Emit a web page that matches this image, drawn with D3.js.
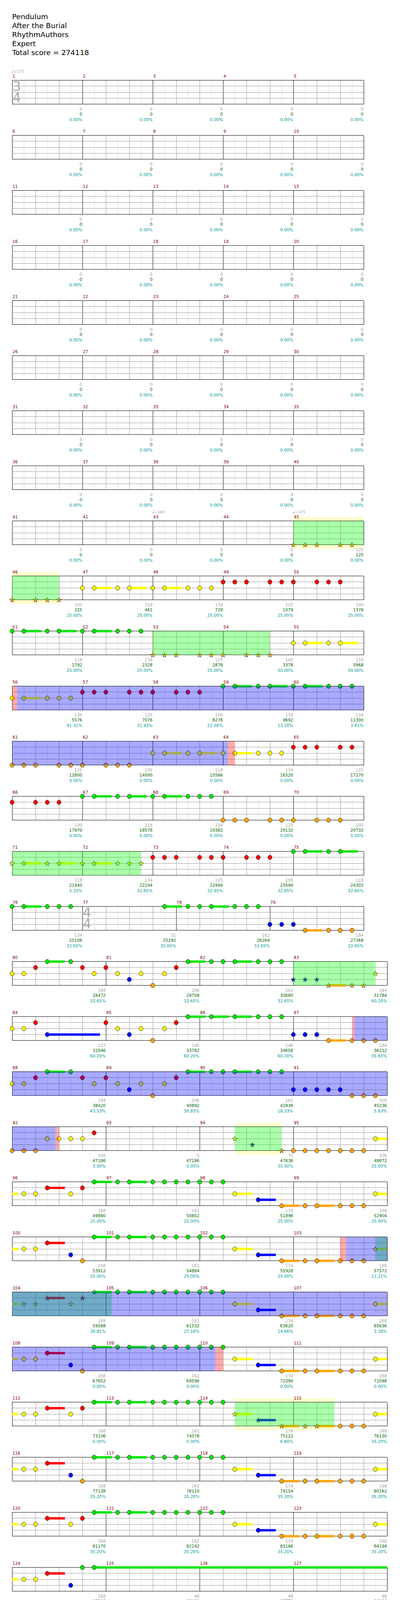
<!DOCTYPE html>
<html>
<head>
<meta charset="utf-8">
<script src="https://cdnjs.cloudflare.com/ajax/libs/d3/7.8.5/d3.min.js"></script>
<style>
  body { margin: 0; background: #fff; }
  text { font-family: "DejaVu Sans", sans-serif; }
</style>
</head>
<body>
<div id="chart"></div>
<script>
// page and staff geometry
const WIDTH = 1024, HEIGHT = 7819;
const LEFT = 31, PX_PER_16TH = 15, ROW_16THS = 64;
const FIRST_STAFF_TOP = 205.7, ROW_PITCH = 141, LANE_GAP = 15.25;

const TITLE_LINES = ["Pendulum", "After the Burial", "RhythmAuthors", "Expert", "Total score = 274118"];

// [first measure, beats, beat unit]
const TIME_SIGS = [[1, 3, 4], [77, 4, 4]];
// [measure, bpm]
const TEMPOS = [[1, 175], [43, 180], [45, 175]];

// per-measure base score (grey line)
const MEASURE_SCORE = [
  0, 0, 0, 0, 0, 0, 0, 0, 0, 0, 0, 0, 0, 0, 0, 0, 0, 0, 0, 0,
  0, 0, 0, 0, 0, 0, 0, 0, 0, 0, 0, 0, 0, 0, 0, 0, 0, 0, 0, 0,
  0, 0, 0, 0, 125, 100, 118, 134, 125, 100, 118, 134, 125, 100, 118,
  134, 125, 100, 118, 134, 125, 100, 118, 134, 125, 100, 118, 134, 125, 100,
  118, 134, 125, 100, 118, 134, 31, 162, 184,
  184, 206, 162, 184, 127, 206, 146, 184, 184, 206, 162, 200, 200, 0, 75, 206,
  168, 162, 174, 168, 168, 162, 174, 168, 168, 162, 174, 168, 168, 162, 174, 168,
  168, 162, 174, 168, 168, 162, 174, 168, 168, 162, 174, 168, 168, 48, 48, 48,
  45, 350, 300, 0, 56, 303, 350, 300, 350, 300, 350, 246, 312, 303, 350, 300,
  350, 300, 331, 162, 190, 303, 350, 300, 350, 300, 350, 246, 312, 303, 350, 300,
  350, 300, 331, 162, 134, 0, 75, 206, 168, 162, 174, 168, 168, 162, 174, 168,
  168, 162, 174, 168, 168, 162, 174, 168, 168, 162, 174, 168, 168, 162, 174, 168,
  168, 162, 174, 168, 162, 0, 150, 100, 125, 150, 125, 125, 125, 100, 150, 100,
  125, 150, 125, 125, 125, 100, 150, 100, 125, 150, 125, 125, 125, 100, 150, 100,
  125, 150, 125, 125, 125, 100
];

// running total (green line)
const TOTAL_SCORE = [
  0, 0, 0, 0, 0, 0, 0, 0, 0, 0, 0, 0, 0, 0, 0, 0, 0, 0, 0, 0,
  0, 0, 0, 0, 0, 0, 0, 0, 0, 0, 0, 0, 0, 0, 0, 0, 0, 0, 0, 0,
  0, 0, 0, 0, 125, 225, 461, 729, 1079, 1379, 1792, 2328, 2878, 3378, 3968,
  5576, 7076, 8276, 9692, 11300, 12800, 14000, 15566, 16520, 17270,
  17870, 18578, 19382, 20132, 20732, 21440, 22244, 22994, 23594, 24302,
  25106, 25292, 26264, 27368,
  28472, 29708, 30680, 31784, 32546, 33782, 34658, 36212,
  38420, 40892, 42836, 45236, 47186, 47186, 47636, 48872,
  49880, 50852, 51896, 52904, 53912, 54884, 55928, 57572,
  59588, 61532, 63620, 65636, 67652, 69596, 71090, 72098,
  73106, 74078, 75122, 76130, 77138, 78110, 79154, 80162,
  81170, 82142, 83186, 84194, 85202, 85490, 85778, 86066,
  86336, 88436, 90236, 90236, 90758, 94394, 98594, 102194,
  106394, 109994, 114194, 117146, 120890, 124526, 128726, 132326,
  136526, 140126, 144098, 146042, 148322, 151958, 156158, 159758,
  163958, 167558, 171758, 174590, 176462, 178280, 180380, 182180,
  184280, 186080, 188066, 189038, 189842, 189842, 190292, 192764,
  194780, 196724, 198812, 200828, 202844, 203984, 205028, 206036,
  207044, 208016, 209060, 210068, 211076, 212048, 213092, 214100,
  215108, 216080, 217124, 218132, 219140, 220112, 221156, 222164,
  223172, 224144, 225188, 226196, 227168, 227168, 228818, 230018,
  231518, 233318, 234818, 236318, 237818, 239018, 240818, 242018,
  243518, 245318, 246818, 248318, 249818, 251018, 252818, 254018,
  255518, 257318, 258818, 260318, 261818, 263018, 264818, 266018,
  267518, 269318, 270818, 272318, 273518, 274118
];

// percentage line (teal)
const PERCENT = [
  0, 0, 0, 0, 0, 0, 0, 0, 0, 0, 0, 0, 0, 0, 0, 0, 0, 0, 0, 0,
  0, 0, 0, 0, 0, 0, 0, 0, 0, 0, 0, 0, 0, 0, 0, 0, 0, 0, 0, 0,
  0, 0, 0, 0, 0, 25, 25, 25, 25, 25, 25, 25, 25, 50, 50,
  41.31, 31.93, 22.56, 13.18, 3.81, 0, 0, 0, 0, 0, 0, 0, 0, 0, 0,
  5.10, 32.65, 32.65, 32.65, 32.65, 32.65, 32.65, 32.65, 32.65,
  32.65, 32.65, 32.65, 60.20, 60.20, 60.20, 60.20, 55.83,
  43.33, 30.83, 18.33, 5.83, 0, 0, 25, 25,
  25, 25, 25, 25, 25, 25, 25, 21.21,
  38.81, 27.16, 14.66, 2.16, 0, 0, 0, 0,
  0, 0, 6.80, 35.20, 35.20, 35.20, 35.20, 35.20,
  35.20, 35.20, 35.20, 35.20, 35.20, 35.20, 35.20, 35.20,
  35.20, 60.20, 60.20, 60.20, 59.79, 53.54, 47.29, 41.04,
  34.79, 28.54, 22.29, 21.99, 40.74, 34.49, 28.24, 21.99,
  15.74, 9.49, 3.24, 0, 0, 0, 0, 0,
  0, 0, 0, 0, 0, 0, 25, 25,
  25, 25, 25, 25, 25, 25, 50, 38.18,
  25.68, 13.18, 0.68, 0, 0, 0, 0, 0,
  0, 0, 31.80, 32.65, 32.65, 32.65, 32.65, 32.65,
  32.65, 32.65, 32.65, 32.65, 34.35, 62.75, 62.75, 62.75,
  62.75, 62.75, 62.75, 62.75, 62.75, 62.75, 57.54, 51.29,
  45.04, 63.79, 57.54, 51.29, 45.04, 38.79, 32.54, 26.29,
  20.04, 38.79, 32.54, 26.29, 20.04, 13.79, 7.54, 1.29,
  0, 20.31, 14.06, 7.81, 1.56, 0, 0, 0,
  0, 0, 0, 0, 0, 0
];

// note patterns: lane letter + 16th position in measure, ":n" = sustain in 16ths
const H1 = "y2 y4 r6:3 y10 r12 g14:3";
const H2 = "y2 y4 r6:3 o10 b12 g14:3";
const K = "g2 g4:3 g8 g10 g12 g14";
const L = "g0 g2 g4 y6:3 o10:3 b14:3";
const M = "b2 b4:3 b8 b10 b12 y14:3";
const E = "g2 g3 g4 g5 g6 g7 g8 g9 g12 g13 g14 g15";
const F = "g0 g1 g4 g5 g6 g7 g8 g9 g10 g11 g12 g13 g14 g15";
const F2 = "g0 g1 g4 g5 g6 g7 g8 g9 g10 g11 g12 g13 b14:3";
const S0 = "g0 g2 g4 g12 g14";
const S1 = "g2 g4 g8 g10 g12 g14";
const S2 = "g2 g4 g8 g10 g14";
const S3 = "g0 g4 g6 g10 g12";
const S5 = "g2 g4 g8 g10";
const S6 = "g0 g2 g6 g8 g12 g14";
const S7 = "g4 g6 g10 g12";

const NOTES = [
  [45, "b0 b2 b4 b8 b10"], [46, "b0 b4 b6 b8"], [47, "y0 y2:3 y6 y8:3"], [48, "y0 y2:3 y6 y8 y10"],
  [49, "r0 r2 r4 r8 r10"], [50, "r0 r4 r6 r8"], [51, "g0 g2:3 g6 g8:3"], [52, "g0 g2:3 g6 g8 g10"],
  [53, "b0 b2 b4 b8 b10"], [54, "b0 b4 b6 b8"], [55, "y0 y2:3 y6 y8:3"], [56, "y0 y2:3 y6 y8 y10"],
  [57, "r0 r2 r4 r8 r10"], [58, "r0 r4 r6 r8"], [59, "g0 g2:3 g6 g8:3"], [60, "g0 g2:3 g6 g8 g10"],
  [61, "b0 b2 b4 b8 b10"], [62, "b0 b4 b6 b8"], [63, "y0 y2:3 y6 y8:3"], [64, "y0 y2:3 y6 y8 y10"],
  [65, "r0 r2 r4 r8 r10"], [66, "r0 r4 r6 r8"], [67, "g0 g2:3 g6 g8:3"], [68, "g0 g2:3 g6 g8 g10"],
  [69, "b0 b2 b4 b8 b10"], [70, "b0 b4 b6 b8"], [71, "y0 y2:3 y6 y8:3"], [72, "y0 y2:3 y6 y8 y10"],
  [73, "r0 r2 r4 r8 r10"], [74, "r0 r4 r6 r8"], [75, "g0 g2:3 g6 g8:3"], [76, "g0 g2:3 g6 g8 g10"],
  [77, "g14:3"], [78, "g2 g4 g6:3 g10 g12 g14"], [79, "o0 o2 o4 b6:3 b10 b12 b14"],
  [80, "y0 y2 r4 g6:3 g10 r12 y14"], [81, "r0 y2 o4 y6 b8 y10 r12 g14:3"],
  [82, "g2 g4 g6:3 g10 g12 g14"], [83, "o0 o2 o4 b6:3 b10 b12 y14"],
  [84, "y0 y2 r4 o6:9"], [85, "r0 y2 o4 y6 b8 y10 r12 g14:3"],
  [86, "g2:3 g6:3 g10 g12 g14"], [87, "o0 o2 o4 b6:3 b10 b12 b14"],
  [88, "y0 y2 r4 g6:3 g10 r12 y14"], [89, "r0 y2 o4 y6 b8 y10 r12 g14:3"],
  [90, "g2 g4 g6:3 g10 g12 g14"], [91, "o0 o2 o4 o6 o8 b10 b12 b14"],
  [92, "b0 b2 b4 y6 y8 y10 y12 r14"], [94, "y6 o9 b14"], [95, "b0 b2 b4 b6 b8 b10 b12 y14:3"],
  [96, H1], [97, K], [98, L], [99, M], [100, H2], [101, K], [102, L], [103, M],
  [104, H1], [105, K], [106, L], [107, M], [108, H2], [109, K], [110, L], [111, M],
  [112, H1], [113, K], [114, L], [115, M], [116, H2], [117, K], [118, L], [119, M],
  [120, H1], [121, K], [122, L], [123, M],
  [124, "y2 y4 r6:3 o10 g12 g14:65"],
  [129, "g0 g1 g2 g3 g4 g5 g6 g7 g8 g9 g12 g13 g14 g15"],
  [130, "g0 g1 g4 g5 g6 g7 g8 g9 g10 g11 g12 g13"],
  [132, "g12 g14:3"], [133, E], [134, F], [135, E], [136, F], [137, E], [138, F],
  [139, "y0 y1 y2 y3 y4 y5 y6 y7 y8:7"], [140, "r0 r1 r2 r3 r4 r5 r6 r7 r8 r10 r11 r12:5"],
  [141, E], [142, F], [143, E], [144, F], [145, E], [146, F2], [147, "b2 b4:3 b8 b10 b12 y14"],
  [148, "y0 y2 y4 r6:3 o10 g12 g14:3"], [149, E], [150, F], [151, E], [152, F], [153, E], [154, F],
  [155, "y0 y1 y2 y3 y4 y5 y6 y7 y8:7"], [156, "r0 r1 r2 r3 r4 r5 r6 r7 r8 r10 r11 r12:5"],
  [157, E], [158, F], [159, E], [160, F], [161, E], [162, F2], [163, "b2 b4:3 b8 b10 b12 y14"],
  [164, "y0 y2 y4 r6:3 o10"], [166, "b6 o9 b14"], [167, "b0 b2 b4 b6 b8 b10 b12 y14:3"],
  [168, H1], [169, K], [170, L], [171, M], [172, H2], [173, K], [174, L], [175, M],
  [176, H1], [177, K], [178, L], [179, M], [180, H2], [181, K], [182, L], [183, M],
  [184, H1], [185, K], [186, L], [187, M], [188, H2], [189, K], [190, L], [191, M],
  [192, H1], [193, K], [194, L], [195, M], [196, "y2 y4 r6:3 o10 b12 g14"],
  [198, S6], [199, S7], [200, S0], [201, S1], [202, S2], [203, S3],
  [204, S0], [205, S5], [206, S6], [207, S7], [208, S0], [209, S1], [210, S2], [211, S3],
  [212, S0], [213, S5], [214, S6], [215, S7], [216, S0], [217, S1], [218, S2], [219, S3],
  [220, S0], [221, S5], [222, S6], [223, S7], [224, S0], [225, S1], [226, S2], [227, S3],
  [228, S0], [229, S5]
];

// star power phrases: [measure, pos, end measure, end pos, halo]
const PHRASES = [
  [45, 0, 46, 8, 1], [53, 0, 54, 8, 0], [71, 0, 72, 10, 0], [83, 0, 83, 14, 0],
  [94, 6, 94, 14, 1], [103, 14, 105, 1, 0], [114, 6, 115, 7, 1], [129, 0, 129, 9, 0],
  [139, 0, 140, 8, 1], [157, 2, 158, 1, 0], [166, 6, 166, 14, 1], [178, 6, 179, 1, 0],
  [188, 14, 189, 14, 1], [200, 12, 201, 14, 0], [208, 0, 209, 14, 1], [216, 0, 217, 4, 0]
];

// activations: pink start, blue start, blue end, pink end as [measure, pos]
const ACTIVATIONS = [
  [[56, 0], [56, 0.83], [64, 0.83], [64, 2]],
  [[87, 10], [87, 10.4], [92, 7.43], [92, 8]],
  [[103, 8], [103, 9], [110, 2.7], [110, 4]],
  [[132, 14], [132, 14.87], [155, 8.26], [155, 8.26]],
  [[167, 0], [167, 0.87], [173, 0.87], [173, 2]],
  [[198, 2], [198, 2.5], [228, 3.17], [228, 4]]
];

const LANE_KEYS = "gryob";
const LANE_COLORS = ["#00e600", "#ff0000", "#ffff00", "#0000ff", "#ffa500"];

// measure start positions in 16ths
const N_MEASURES = MEASURE_SCORE.length;
const mStart = [], mLen = [];
let acc = 0;
for (let m = 1; m <= N_MEASURES; m++) {
  let beats = 4;
  TIME_SIGS.forEach(ts => { if (m >= ts[0]) beats = ts[1]; });
  mStart[m] = acc;
  mLen[m] = beats * 4;
  acc += mLen[m];
}
const gpos = (m, p) => mStart[m] + p;

// pack measures into rows of at most 16 beats
const rows = [];
for (let m = 1; m <= N_MEASURES; m++) {
  let row = rows[rows.length - 1];
  if (!row || row.len + mLen[m] > ROW_16THS) {
    row = {start: mStart[m], len: 0, measures: []};
    rows.push(row);
  }
  row.measures.push(m);
  row.len += mLen[m];
}

const notes = [];
NOTES.forEach(([m, str]) => {
  str.trim().split(/\s+/).forEach(tok => {
    const t = tok.match(/^([gryob])(\d+)(?::(\d+))?$/);
    notes.push({pos: gpos(m, +t[2]), lane: LANE_KEYS.indexOf(t[1]), sus: t[3] ? +t[3] : 0});
  });
});
const phrases = PHRASES.map(p => ({a: gpos(p[0], p[1]), b: gpos(p[2], p[3]), halo: p[4] === 1}));
notes.forEach(n => { n.star = phrases.some(p => n.pos >= p.a && n.pos <= p.b); });
const blues = ACTIVATIONS.map(a => ({a: gpos(...a[1]), b: gpos(...a[2])}));
const pinks = [];
ACTIVATIONS.forEach(a => {
  pinks.push({a: gpos(...a[0]), b: gpos(...a[1])});
  pinks.push({a: gpos(...a[2]), b: gpos(...a[3])});
});

const fmtPct = d3.format(".2f");
const star = d3.symbol().type(d3.symbolStar).size(48);

const svg = d3.select("#chart").append("svg")
  .attr("width", WIDTH)
  .attr("height", HEIGHT)
  .style("display", "block");

svg.append("rect").attr("width", WIDTH).attr("height", HEIGHT).attr("fill", "#fff");

svg.selectAll(".title")
  .data(TITLE_LINES)
  .enter()
  .append("text")
    .attr("class", "title")
    .attr("x", 31)
    .attr("y", (d, i) => 49 + 23 * i)
    .attr("font-size", "18.5px")
    .attr("fill", "#000")
    .text(d => d);

rows.forEach((row, r) => {
  const top = FIRST_STAFF_TOP + r * ROW_PITCH;
  const rowEnd = row.start + row.len;
  const x = d3.scaleLinear().domain([row.start, row.start + ROW_16THS])
    .range([LEFT, LEFT + ROW_16THS * PX_PER_16TH]);
  const y = d3.scaleLinear().domain([0, 4]).range([top, top + 4 * LANE_GAP]);
  const bottom = y(4);
  const inRow = d => d.b > row.start && d.a < rowEnd;
  const clipA = d => Math.max(d.a, row.start);
  const clipB = d => Math.min(d.b, rowEnd);
  const g = svg.append("g");

  // yellow halos behind the staff
  g.selectAll(".halo").data(phrases.filter(p => p.halo && inRow(p))).enter()
    .append("rect")
      .attr("x", d => x(clipA(d)))
      .attr("width", d => x(clipB(d)) - x(clipA(d)))
      .attr("y", top - 10)
      .attr("height", bottom - top + 20)
      .attr("fill", "#ffffcc");

  g.append("rect")
    .attr("x", x(row.start)).attr("y", top)
    .attr("width", x(rowEnd) - x(row.start)).attr("height", bottom - top)
    .attr("fill", "#fff");

  // vertical grid: eighths, beats, bar lines
  const ticks = [];
  row.measures.forEach(m => {
    for (let p = 0; p < mLen[m]; p += 2) {
      ticks.push({pos: mStart[m] + p, kind: p === 0 ? 2 : (p % 4 === 0 ? 1 : 0)});
    }
  });
  ticks.push({pos: rowEnd, kind: 2});
  ticks.sort((a, b) => a.kind - b.kind);
  g.selectAll(".vgrid").data(ticks).enter()
    .append("line")
      .attr("x1", d => x(d.pos)).attr("x2", d => x(d.pos))
      .attr("y1", top).attr("y2", bottom)
      .attr("stroke", d => ["#dddddd", "#999999", "#000000"][d.kind])
      .attr("stroke-width", 1)
      .attr("shape-rendering", "crispEdges");

  g.selectAll(".hgrid").data([1, 2, 3, 0, 4]).enter()
    .append("line")
      .attr("x1", x(row.start)).attr("x2", x(rowEnd))
      .attr("y1", d => y(d)).attr("y2", d => y(d))
      .attr("stroke", d => (d === 0 || d === 4) ? "#000" : "#999")
      .attr("stroke-width", d => (d === 0 || d === 4) ? 1.4 : 1)
      .attr("shape-rendering", "crispEdges");

  // time signature digits
  TIME_SIGS.filter(ts => row.measures.includes(ts[0])).forEach(ts => {
    const tx = x(mStart[ts[0]]);
    g.append("text").attr("x", tx + 1).attr("y", top + 27.5).attr("font-size", "34px")
      .attr("fill", "#aaaaaa").text(ts[1]);
    g.append("text").attr("x", tx + 1).attr("y", top + 56.5).attr("font-size", "34px")
      .attr("fill", "#aaaaaa").text(ts[2]);
  });

  // sustains
  const sus = notes.filter(n => n.sus > 0).map(n => ({a: n.pos, b: n.pos + n.sus, lane: n.lane}))
    .filter(inRow);
  g.selectAll(".sus").data(sus).enter()
    .append("rect")
      .attr("x", d => x(clipA(d)))
      .attr("width", d => x(clipB(d)) - x(clipA(d)))
      .attr("y", d => y(d.lane) - 3)
      .attr("height", 6)
      .attr("fill", d => LANE_COLORS[d.lane]);

  const rowNotes = notes.filter(n => n.pos >= row.start && n.pos < rowEnd);
  g.selectAll(".note").data(rowNotes.filter(n => !n.star)).enter()
    .append("ellipse")
      .attr("cx", d => x(d.pos))
      .attr("cy", d => y(d.lane))
      .attr("rx", 5.2).attr("ry", 5.6)
      .attr("fill", d => LANE_COLORS[d.lane])
      .attr("stroke", "#000")
      .attr("stroke-width", 0.8);
  g.selectAll(".star").data(rowNotes.filter(n => n.star)).enter()
    .append("path")
      .attr("d", star)
      .attr("transform", d => "translate(" + x(d.pos) + "," + (y(d.lane) + 0.5) + ")")
      .attr("fill", d => LANE_COLORS[d.lane])
      .attr("stroke", "#000")
      .attr("stroke-width", 0.7);

  // overlays: star power phrase, activation, activation edges
  [[phrases, "#00ff00"], [blues, "#0000ff"], [pinks, "#ff0000"]].forEach(([list, col]) => {
    g.selectAll(null).data(list.filter(inRow)).enter()
      .append("rect")
        .attr("x", d => x(clipA(d)))
        .attr("width", d => x(clipB(d)) - x(clipA(d)))
        .attr("y", top)
        .attr("height", bottom - top)
        .attr("fill", col)
        .attr("fill-opacity", 0.333);
  });

  // measure numbers and scores
  row.measures.forEach(m => {
    const xs = x(mStart[m]);
    const xe = x(mStart[m] + mLen[m]);
    g.append("text").attr("x", xs + 1).attr("y", top - 7)
      .attr("font-size", "10.5px").attr("fill", "#800000").text(m);
    g.append("text").attr("x", xe - 0.5).attr("y", top + 77).attr("text-anchor", "end")
      .attr("font-size", "10.5px").attr("fill", "#a0a0a0").text(MEASURE_SCORE[m - 1]);
    g.append("text").attr("x", xe - 0.5).attr("y", top + 90.5).attr("text-anchor", "end")
      .attr("font-size", "10.5px").attr("fill", "#006400").text(TOTAL_SCORE[m - 1]);
    g.append("text").attr("x", xe - 0.5).attr("y", top + 104).attr("text-anchor", "end")
      .attr("font-size", "10.5px").attr("fill", "#009999").text(fmtPct(PERCENT[m - 1]) + "%");
  });

  // tempo marks
  TEMPOS.filter(t => row.measures.includes(t[0])).forEach(t => {
    const tx = x(mStart[t[0]]);
    const tt = g.append("text").attr("x", tx - 2).attr("y", top - 20).attr("fill", "#a0a0a0");
    tt.append("tspan").attr("font-size", "14px").text("\u2669");
    tt.append("tspan").attr("font-size", "9.5px").text("=" + t[1]);
  });
});
</script>
</body>
</html>
